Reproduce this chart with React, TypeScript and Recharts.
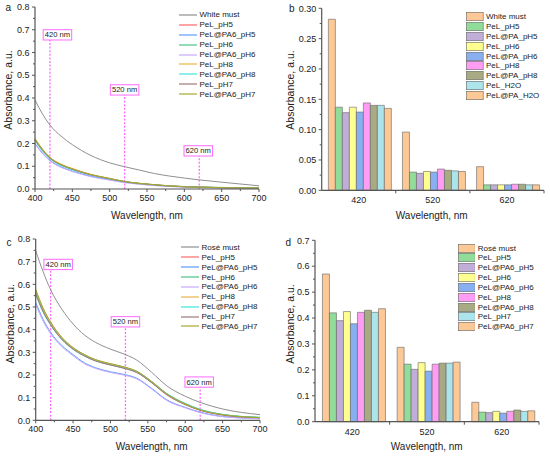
import React from "react"
import { LineChart, Line, BarChart, Bar, XAxis, YAxis, Legend, ReferenceLine, ReferenceDot, Label } from "recharts"

const FONT = '"Liberation Sans", Arial, sans-serif'
const AXIS = "#555"
const TXT = "#222"
const PINK = "#ff6cff"

// ---- panel a: white must spectra ----
const wlA = [400, 410, 420, 435, 450, 475, 500, 520, 540, 560, 580, 600, 620, 650, 700]
const whiteMust = [0.391, 0.33, 0.281, 0.232, 0.195, 0.147, 0.115, 0.098, 0.083, 0.068, 0.057, 0.048, 0.04, 0.03, 0.014]
const aPeL_pH5 = [0.215, 0.17, 0.135, 0.105, 0.087, 0.062, 0.045, 0.032, 0.024, 0.018, 0.013, 0.01, 0.008, 0.006, 0.004]
const aPA6_pH5 = [0.2, 0.158, 0.126, 0.097, 0.079, 0.056, 0.041, 0.03, 0.022, 0.016, 0.012, 0.009, 0.007, 0.005, 0.003]
const aPeL_pH6 = [0.218, 0.172, 0.137, 0.106, 0.088, 0.063, 0.046, 0.033, 0.025, 0.019, 0.014, 0.011, 0.009, 0.007, 0.005]
const aPA6_pH6 = [0.198, 0.156, 0.124, 0.095, 0.077, 0.054, 0.039, 0.028, 0.021, 0.015, 0.011, 0.008, 0.006, 0.004, 0.003]
const aPeL_pH8 = [0.222, 0.176, 0.14, 0.109, 0.09, 0.064, 0.047, 0.033, 0.024, 0.018, 0.013, 0.01, 0.008, 0.006, 0.004]
const aPA6_pH8 = [0.212, 0.167, 0.133, 0.103, 0.085, 0.061, 0.044, 0.032, 0.024, 0.018, 0.013, 0.01, 0.008, 0.006, 0.004]
const aPeL_pH7 = [0.216, 0.171, 0.136, 0.106, 0.087, 0.062, 0.045, 0.032, 0.024, 0.018, 0.013, 0.01, 0.008, 0.006, 0.004]
const aPA6_pH7 = [0.22, 0.174, 0.138, 0.107, 0.089, 0.063, 0.046, 0.033, 0.025, 0.019, 0.014, 0.01, 0.008, 0.006, 0.004]

// ---- panel c: rosé must spectra ----
const wlC = [400, 410, 420, 435, 450, 465, 480, 500, 520, 535, 555, 575, 600, 620, 650, 700]
const roseMust = [0.748, 0.655, 0.576, 0.49, 0.425, 0.377, 0.344, 0.314, 0.29, 0.266, 0.212, 0.153, 0.106, 0.079, 0.05, 0.025]
const cPeL_pH5 = [0.56, 0.48, 0.423, 0.358, 0.315, 0.285, 0.263, 0.245, 0.229, 0.212, 0.167, 0.114, 0.07, 0.045, 0.024, 0.012]
const cPA6_pH5 = [0.52, 0.445, 0.388, 0.33, 0.29, 0.254, 0.232, 0.214, 0.201, 0.186, 0.141, 0.091, 0.057, 0.036, 0.017, 0.008]
const cPeL_pH6 = [0.57, 0.49, 0.43, 0.364, 0.32, 0.29, 0.267, 0.249, 0.233, 0.216, 0.172, 0.119, 0.074, 0.048, 0.026, 0.013]
const cPA6_pH6 = [0.51, 0.437, 0.382, 0.325, 0.285, 0.25, 0.229, 0.211, 0.198, 0.183, 0.138, 0.088, 0.055, 0.034, 0.016, 0.007]
const cPeL_pH8 = [0.565, 0.485, 0.427, 0.361, 0.318, 0.288, 0.266, 0.248, 0.232, 0.215, 0.17, 0.116, 0.071, 0.046, 0.025, 0.012]
const cPA6_pH8 = [0.555, 0.477, 0.42, 0.356, 0.313, 0.284, 0.262, 0.244, 0.229, 0.213, 0.17, 0.118, 0.074, 0.048, 0.026, 0.013]
const cPeL_pH7 = [0.558, 0.479, 0.422, 0.357, 0.314, 0.284, 0.262, 0.244, 0.228, 0.211, 0.166, 0.113, 0.069, 0.044, 0.023, 0.011]
const cPA6_pH7 = [0.578, 0.495, 0.434, 0.366, 0.321, 0.29, 0.268, 0.25, 0.234, 0.217, 0.171, 0.117, 0.072, 0.046, 0.025, 0.012]

const lineNamesA = ["White must", "PeL_pH5", "PeL@PA6_pH5", "PeL_pH6", "PeL@PA6_pH6", "PeL_pH8", "PeL@PA6_pH8", "PeL_pH7", "PeL@PA6_pH7"]
const lineNamesC = ["Ros\u00e9 must", "PeL_pH5", "PeL@PA6_pH5", "PeL_pH6", "PeL@PA6_pH6", "PeL_pH8", "PeL@PA6_pH8", "PeL_pH7", "PeL@PA6_pH7"]
const lineColors = ["#8f8f8f", "#ff6868", "#5a9cff", "#4cc488", "#c8a8ff", "#e8b448", "#40e4dc", "#a07878", "#a8a82c"]

// marked wavelengths and the absorbance where the dashed marker stops
const markWl = [420, 520, 620]
const markTopA = [0.655, 0.413, 0.145]
const markTopC = [0.665, 0.412, 0.146]
const markShift = [7.5, 0, -1]

// ---- bar panels ----
const barCats = ["420", "520", "620"]
const bWhite = [0.282, 0.096, 0.039]
const bPeL_pH5 = [0.137, 0.03, 0.009]
const bPA_pH5 = [0.128, 0.028, 0.009]
const bPeL_pH6 = [0.137, 0.031, 0.009]
const bPA_pH6 = [0.129, 0.03, 0.009]
const bPeL_pH8 = [0.144, 0.035, 0.01]
const bPA_pH8 = [0.14, 0.033, 0.01]
const bPeL_H2O = [0.14, 0.032, 0.009]
const bPA_H2O = [0.135, 0.031, 0.009]
const barNamesB = ["White must", "PeL_pH5", "PeL@PA_pH5", "PeL_pH6", "PeL@PA_pH6", "PeL_pH8", "PeL@PA_pH8", "PeL_H2O", "PeL@PA_H2O"]

const dRose = [0.57, 0.287, 0.075]
const dPeL_pH5 = [0.42, 0.222, 0.037]
const dPA6_pH5 = [0.39, 0.202, 0.035]
const dPeL_pH6 = [0.425, 0.228, 0.04]
const dPA6_pH6 = [0.378, 0.195, 0.033]
const dPeL_pH8 = [0.422, 0.222, 0.04]
const dPA6_pH8 = [0.43, 0.226, 0.045]
const dPeL_pH7 = [0.422, 0.226, 0.04]
const dPA6_pH7 = [0.436, 0.23, 0.042]
const barNamesD = ["Ros\u00e9 must", "PeL_pH5", "PeL@PA6_pH5", "PeL_pH6", "PeL@PA6_pH6", "PeL_pH8", "PeL@PA6_pH8", "PeL_pH7", "PeL@PA6_pH7"]

const barColors = ["#fcc896", "#90dc98", "#c0aed8", "#ffff90", "#88aff0", "#ff9cf4", "#a8aa84", "#ace4ec", "#fcc896"]

// axis ticks
const xTicks = [400, 425, 450, 475, 500, 525, 550, 575, 600, 625, 650, 675, 700]
const yTicksAC = [0, 0.05, 0.1, 0.15, 0.2, 0.25, 0.3, 0.35, 0.4, 0.45, 0.5, 0.55, 0.6, 0.65, 0.7, 0.75, 0.8]
const yTicksB = [0, 0.025, 0.05, 0.075, 0.1, 0.125, 0.15, 0.175, 0.2, 0.225, 0.25, 0.275, 0.3]
const yTicksD = [0, 0.05, 0.1, 0.15, 0.2, 0.25, 0.3, 0.35, 0.4, 0.45, 0.5, 0.55, 0.6, 0.65, 0.7]

const isMultiple = (v: number, step: number) => Math.abs(v / step - Math.round(v / step)) < 1e-6
const seriesIndex = (e: any) => parseInt(String(e.dataKey).slice(1), 10) || 0
const inOrder = (payload: any[]) => [...(payload || [])].sort((a, b) => seriesIndex(a) - seriesIndex(b))

const xTick = (p: any) => {
  const v = p.payload.value
  const major = isMultiple(v, 50)
  return (
    <g>
      <line x1={p.x} x2={p.x} y1={p.y} y2={p.y + (major ? 3 : 2)} stroke={AXIS} />
      {major && (
        <text x={p.x} y={p.y + 11.5} textAnchor="middle" fontSize={9} fontFamily={FONT} fill={TXT}>
          {v}
        </text>
      )}
    </g>
  )
}

const catTick = (band: number) => (p: any) => (
  <g>
    <line x1={p.x + band / 2} x2={p.x + band / 2} y1={p.y} y2={p.y + 3} stroke={AXIS} />
    <text x={p.x} y={p.y + 13} textAnchor="middle" fontSize={9} fontFamily={FONT} fill={TXT}>
      {p.payload.value}
    </text>
  </g>
)

const yTick = (step: number, digits: number) => (p: any) => {
  const v = p.payload.value
  const major = isMultiple(v, step)
  return (
    <g>
      <line x1={p.x} x2={p.x - (major ? 3 : 2)} y1={p.y} y2={p.y} stroke={AXIS} />
      {major && (
        <text x={p.x - 5.5} y={p.y + 3.2} textAnchor="end" fontSize={9} fontFamily={FONT} fill={TXT}>
          {v.toFixed(digits)}
        </text>
      )}
    </g>
  )
}

const titleText = (text: string, x: number, y: number, vertical = false) => () => (
  <text
    x={x}
    y={y}
    textAnchor="middle"
    dominantBaseline="central"
    fontSize={vertical ? 10.5 : 10}
    fontFamily={FONT}
    fill={TXT}
    transform={vertical ? `rotate(-90 ${x} ${y})` : undefined}
  >
    {text}
  </text>
)

const markBox = (label: string, shift: number) => (p: any) => (
  <g>
    <rect x={p.cx + shift - 14.25} y={p.cy - 10.3} width={28.5} height={10.3} fill="#fff" stroke={PINK} strokeWidth={1} />
    <text x={p.cx + shift} y={p.cy - 2.6} textAnchor="middle" fontSize={7.6} fontFamily={FONT} fill={TXT}>
      {label}
    </text>
  </g>
)

const lineLegend = (props: any) => (
  <div style={{ fontFamily: FONT, fontSize: 8, color: TXT }}>
    {inOrder(props.payload).map((e: any) => (
      <div key={e.value} style={{ display: "flex", alignItems: "center", height: 9.9, whiteSpace: "nowrap" }}>
        <svg width={18} height={6} style={{ display: "block" }}>
          <line x1={0} x2={18} y1={3} y2={3} stroke={e.color} strokeWidth={1.2} />
        </svg>
        <span style={{ marginLeft: 2.5 }}>{e.value}</span>
      </div>
    ))}
  </div>
)

const barLegend = (props: any) => (
  <div style={{ fontFamily: FONT, fontSize: 8, color: TXT }}>
    {inOrder(props.payload).map((e: any, i: number) => (
      <div key={i} style={{ display: "flex", alignItems: "center", height: 9.85, whiteSpace: "nowrap" }}>
        <svg width={17.5} height={9} style={{ display: "block" }}>
          <rect x={0.3} y={0.3} width={16.9} height={8.4} fill={e.color} stroke="#666" strokeWidth={0.6} />
        </svg>
        <span style={{ marginLeft: 2.5 }}>{e.value}</span>
      </div>
    ))}
  </div>
)

function SpectraPanel(props: {
  wl: number[]
  series: number[][]
  names: string[]
  tops: number[]
  margin: any
  legendPos: { left: number; top: number }
  yTitle: { x: number; y: number }
  xTitle: { x: number; y: number }
}) {
  const data = props.wl.map((w, i) => {
    const row: any = { wl: w }
    props.series.forEach((s, j) => (row["s" + j] = s[i]))
    return row
  })
  return (
    <LineChart width={275} height={228} data={data} margin={props.margin}>
      <XAxis
        dataKey="wl"
        type="number"
        domain={[400, 700]}
        ticks={xTicks}
        interval={0}
        tickSize={0}
        tickMargin={0}
        tickLine={false}
        tick={xTick}
        axisLine={{ stroke: AXIS, strokeWidth: 1.2 }}
        height={30}
      >
        <Label content={titleText("Wavelength, nm", props.xTitle.x, props.xTitle.y)} />
      </XAxis>
      <YAxis
        type="number"
        domain={[0, 0.8]}
        ticks={yTicksAC}
        interval={0}
        tickSize={0}
        tickMargin={0}
        tickLine={false}
        tick={yTick(0.1, 1)}
        axisLine={{ stroke: AXIS, strokeWidth: 1.2 }}
        width={30}
      >
        <Label content={titleText("Absorbance, a.u.", props.yTitle.x, props.yTitle.y, true)} />
      </YAxis>
      {markWl.map((w, i) => (
        <ReferenceLine
          key={"l" + w}
          segment={[
            { x: w, y: 0 },
            { x: w, y: props.tops[i] },
          ]}
          stroke={PINK}
          strokeWidth={1.3}
          strokeDasharray="2 1.6"
        />
      ))}
      {markWl.map((w, i) => (
        <ReferenceDot key={"d" + w} x={w} y={props.tops[i]} r={0} shape={markBox(`${w} nm`, markShift[i])} />
      ))}
      {props.series.map((_, j) => (
        <Line
          key={j}
          type="monotone"
          dataKey={"s" + j}
          name={props.names[j]}
          stroke={lineColors[j]}
          strokeWidth={1}
          dot={false}
          isAnimationActive={false}
        />
      ))}
      <Legend
        layout="vertical"
        align="center"
        verticalAlign="middle"
        itemSorter="dataKey"
        content={lineLegend}
        wrapperStyle={{ left: props.legendPos.left, top: props.legendPos.top, width: "auto", height: "auto" }}
      />
    </LineChart>
  )
}

function BarPanel(props: {
  series: number[][]
  names: string[]
  yMax: number
  yTicks: number[]
  yStep: number
  yDigits: number
  yWidth: number
  margin: any
  legendPos: { left: number; top: number }
  yTitle: { x: number; y: number }
  xTitle: { x: number; y: number }
  gap: string
}) {
  const data = barCats.map((c, i) => {
    const row: any = { cat: c }
    props.series.forEach((s, j) => (row["s" + j] = s[i]))
    return row
  })
  const band = (275 - props.margin.left - props.yWidth - props.margin.right) / barCats.length
  return (
    <BarChart width={275} height={229} data={data} margin={props.margin} barCategoryGap={props.gap} barGap={0}>
      <XAxis
        dataKey="cat"
        interval={0}
        tickSize={0}
        tickMargin={0}
        tickLine={false}
        tick={catTick(band)}
        axisLine={{ stroke: AXIS, strokeWidth: 1.2 }}
        height={30}
      >
        <Label content={titleText("Wavelength, nm", props.xTitle.x, props.xTitle.y)} />
      </XAxis>
      <YAxis
        type="number"
        domain={[0, props.yMax]}
        ticks={props.yTicks}
        interval={0}
        tickSize={0}
        tickMargin={0}
        tickLine={false}
        tick={yTick(props.yStep, props.yDigits)}
        axisLine={{ stroke: AXIS, strokeWidth: 1.2 }}
        width={props.yWidth}
      >
        <Label content={titleText("Absorbance, a.u.", props.yTitle.x, props.yTitle.y, true)} />
      </YAxis>
      {props.series.map((_, j) => (
        <Bar
          key={j}
          dataKey={"s" + j}
          name={props.names[j]}
          fill={barColors[j]}
          stroke="#666"
          strokeWidth={0.6}
          isAnimationActive={false}
        />
      ))}
      <Legend
        layout="vertical"
        align="center"
        verticalAlign="middle"
        itemSorter="dataKey"
        content={barLegend}
        wrapperStyle={{ left: props.legendPos.left, top: props.legendPos.top, width: "auto", height: "auto" }}
      />
    </BarChart>
  )
}

const letter = (ch: string, left: number, top: number) => (
  <div
    style={{
      position: "absolute",
      left,
      top,
      fontFamily: FONT,
      fontSize: 10,
      lineHeight: "10px",
      color: TXT,
    }}
  >
    {ch}
  </div>
)

export default function App() {
  return (
    <div style={{ position: "absolute", left: 0, top: 0, width: 550, height: 457, background: "#fff", overflow: "hidden" }}>
      <div style={{ position: "absolute", left: 0, top: 0 }}>
        <SpectraPanel
          wl={wlA}
          series={[whiteMust, aPeL_pH5, aPA6_pH5, aPeL_pH6, aPA6_pH6, aPeL_pH8, aPA6_pH8, aPeL_pH7, aPA6_pH7]}
          names={lineNamesA}
          tops={markTopA}
          margin={{ top: 7, right: 16, bottom: 9, left: 5 }}
          legendPos={{ left: 179, top: 10 }}
          yTitle={{ x: 8, y: 90 }}
          xTitle={{ x: 147, y: 215 }}
        />
      </div>
      <div style={{ position: "absolute", left: 275, top: 0 }}>
        <BarPanel
          series={[bWhite, bPeL_pH5, bPA_pH5, bPeL_pH6, bPA_pH6, bPeL_pH8, bPA_pH8, bPeL_H2O, bPA_H2O]}
          names={barNamesB}
          yMax={0.3}
          yTicks={yTicksB}
          yStep={0.05}
          yDigits={2}
          yWidth={40}
          margin={{ top: 8.3, right: 6, bottom: 8.7, left: 6.7 }}
          legendPos={{ left: 191, top: 11.8 }}
          yTitle={{ x: 15, y: 90 }}
          xTitle={{ x: 156.7, y: 215 }}
          gap="9%"
        />
      </div>
      <div style={{ position: "absolute", left: 0, top: 228 }}>
        <SpectraPanel
          wl={wlC}
          series={[roseMust, cPeL_pH5, cPA6_pH5, cPeL_pH6, cPA6_pH6, cPeL_pH8, cPA6_pH8, cPeL_pH7, cPA6_pH7]}
          names={lineNamesC}
          tops={markTopC}
          margin={{ top: 11, right: 15, bottom: 5.7, left: 5.7 }}
          legendPos={{ left: 181, top: 14.4 }}
          yTitle={{ x: 10, y: 95.7 }}
          xTitle={{ x: 151.7, y: 218.3 }}
        />
      </div>
      <div style={{ position: "absolute", left: 275, top: 228 }}>
        <BarPanel
          series={[dRose, dPeL_pH5, dPA6_pH5, dPeL_pH6, dPA6_pH6, dPeL_pH8, dPA6_pH8, dPeL_pH7, dPA6_pH7]}
          names={barNamesD}
          yMax={0.7}
          yTicks={yTicksD}
          yStep={0.1}
          yDigits={1}
          yWidth={34}
          margin={{ top: 12.3, right: 11, bottom: 5.3, left: 6 }}
          legendPos={{ left: 182.7, top: 15.1 }}
          yTitle={{ x: 15, y: 96 }}
          xTitle={{ x: 151.7, y: 218.3 }}
          gap="10%"
        />
      </div>
      {letter("a", 5.5, 3)}
      {letter("b", 289, 4)}
      {letter("c", 6.5, 238)}
      {letter("d", 285.5, 238)}
    </div>
  )
}
